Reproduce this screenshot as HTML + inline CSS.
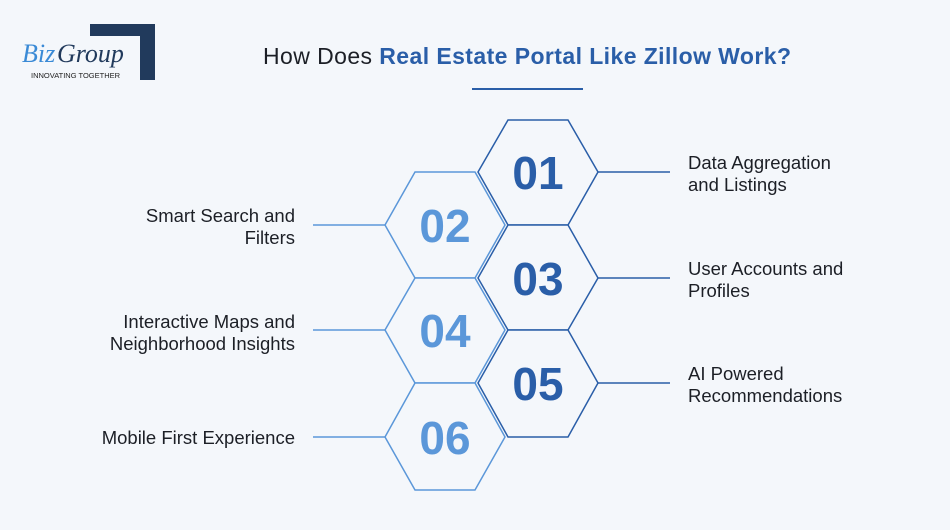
<!DOCTYPE html>
<html><head><style>
body{margin:0;width:950px;height:530px;background:#f4f7fb;font-family:"Liberation Sans",sans-serif;position:relative;overflow:hidden}
.t{position:absolute;font-size:18.5px;color:#1c1f26;line-height:22px}
</style></head><body>
<svg width="950" height="530" style="position:absolute;left:0;top:0">
<path d="M90 24 H155 V80 H140 V36 H90 Z" fill="#213a5c"/>
<text x="22" y="62" font-family="Liberation Serif" font-style="italic" font-size="26" fill="#3a8ad6">Biz</text>
<text x="57" y="62" font-family="Liberation Serif" font-style="italic" font-size="26" fill="#213a5c">Group</text>
<text x="31" y="78" font-size="7.5" fill="#222" font-family="Liberation Sans">INNOVATING TOGETHER</text>
<text x="527" y="64" text-anchor="middle" font-size="23" fill="#1c1f26" font-family="Liberation Sans" textLength="528"><tspan>How Does </tspan><tspan fill="#2a5ea8" font-weight="bold">Real Estate Portal Like Zillow Work?</tspan></text>
<line x1="472" y1="89" x2="583" y2="89" stroke="#2a5ea8" stroke-width="2"/>
<g stroke-width="1.5">
<line x1="598" y1="172" x2="670" y2="172" stroke="#2a5ea8"/>
<line x1="598" y1="278" x2="670" y2="278" stroke="#2a5ea8"/>
<line x1="598" y1="383" x2="670" y2="383" stroke="#2a5ea8"/>
<line x1="313" y1="225" x2="385" y2="225" stroke="#5b97d9"/>
<line x1="313" y1="330" x2="385" y2="330" stroke="#5b97d9"/>
<line x1="313" y1="437" x2="385" y2="437" stroke="#5b97d9"/>
</g>
<g fill="#f4f7fb" stroke="#5b97d9" stroke-width="1.5">
<polygon points="385,225 415,172 475,172 505,225 475,278 415,278"/>
<polygon points="385,330 415,278 475,278 505,330 475,383 415,383"/>
<polygon points="385,437 415,383 475,383 505,437 475,490 415,490"/>
</g>
<g fill="#f4f7fb" stroke="#2a5ea8" stroke-width="1.5">
<polygon points="478,172 508,120 568,120 598,172 568,225 508,225"/>
<polygon points="478,278 508,225 568,225 598,278 568,330 508,330"/>
<polygon points="478,383 508,330 568,330 598,383 568,437 508,437"/>
</g>
<g font-family="Liberation Sans" font-weight="bold" font-size="46" text-anchor="middle">
<text x="538" y="189" fill="#2a5ea8">01</text>
<text x="445" y="242" fill="#5b97d9">02</text>
<text x="538" y="295" fill="#2a5ea8">03</text>
<text x="445" y="347" fill="#5b97d9">04</text>
<text x="538" y="400" fill="#2a5ea8">05</text>
<text x="445" y="454" fill="#5b97d9">06</text>
</g>
</svg>
<div class="t" style="left:688px;top:152px">Data Aggregation<br>and Listings</div>
<div class="t" style="left:688px;top:258px">User Accounts and<br>Profiles</div>
<div class="t" style="left:688px;top:363px">AI Powered<br>Recommendations</div>
<div class="t" style="right:655px;top:205px;text-align:right">Smart Search and<br>Filters</div>
<div class="t" style="right:655px;top:311px;text-align:right">Interactive Maps and<br>Neighborhood Insights</div>
<div class="t" style="right:655px;top:427px;text-align:right">Mobile First Experience</div>
</body></html>
